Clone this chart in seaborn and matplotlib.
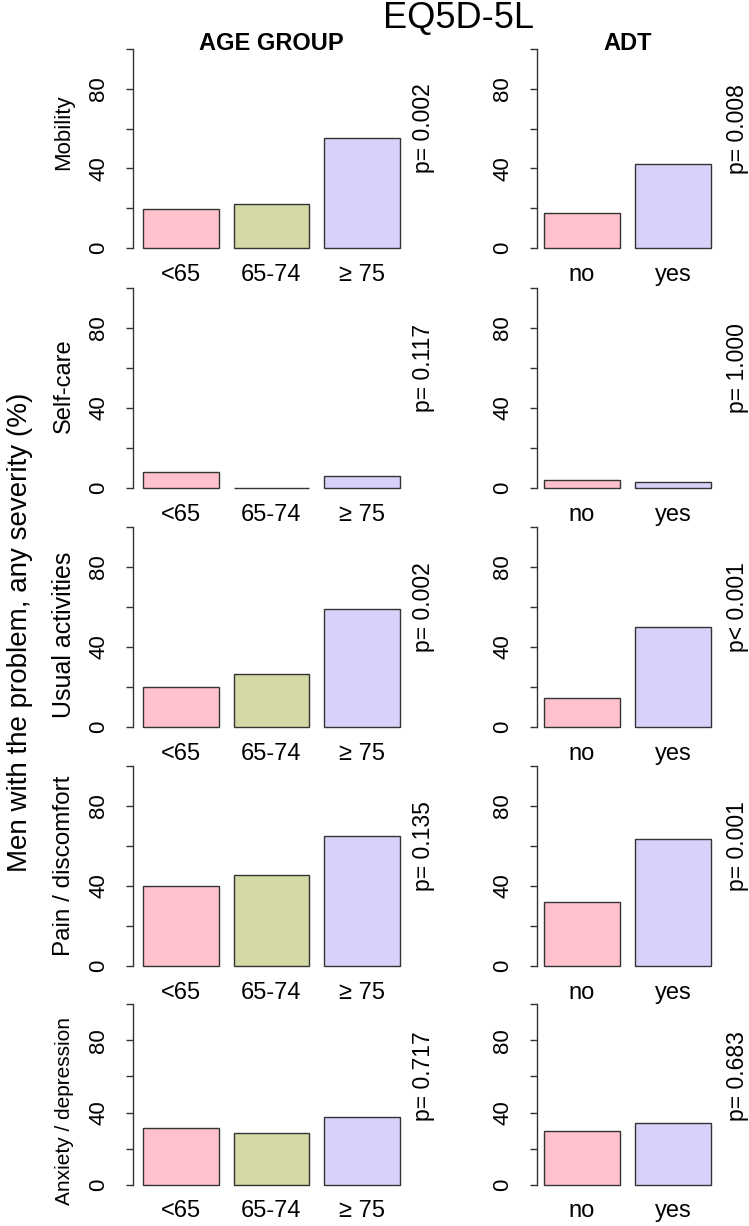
import matplotlib
matplotlib.use("Agg")
import matplotlib.pyplot as plt
import matplotlib.transforms as mtransforms
import seaborn as sns
import pandas as pd

# -------------------- data --------------------
domains = ["Mobility", "Self-care", "Usual activities", "Pain / discomfort", "Anxiety / depression"]

age_groups = ["<65", "65-74", "\u2265 75"]
adt_groups = ["no", "yes"]

mobility_age = [19.4, 22.1, 55.4]
selfcare_age = [8.2, 0.0, 6.1]
usual_age = [19.9, 26.5, 59.0]
pain_age = [39.9, 45.4, 64.9]
anxiety_age = [31.7, 29.0, 37.8]

mobility_adt = [17.4, 42.0]
selfcare_adt = [4.2, 3.0]
usual_adt = [14.3, 49.9]
pain_adt = [32.2, 63.7]
anxiety_adt = [29.9, 34.3]

p_age = ["p= 0.002", "p= 0.117", "p= 0.002", "p= 0.135", "p= 0.717"]
p_adt = ["p= 0.008", "p= 1.000", "p< 0.001", "p= 0.001", "p= 0.683"]

age_values = [mobility_age, selfcare_age, usual_age, pain_age, anxiety_age]
adt_values = [mobility_adt, selfcare_adt, usual_adt, pain_adt, anxiety_adt]

age_colors = ["#FFC2CD", "#D4D8A4", "#D6D2FA"]
adt_colors = ["#FFC2CD", "#D6D2FA"]

# -------------------- layout (pixels of the 749x1226 canvas) --------------------
W, H = 749, 1226
col_px = [(133, 410), (537, 718)]
row_px = [(248, 49), (488, 288), (727, 527), (966, 766), (1185, 1004)]  # (y of 0, y of 100)
label_y = [58, 51, 46, 50, 41]
label_size = [16, 17, 18, 17.5, 15]
p_offset = [10, 14]

sns.set_style("white")
plt.rcParams["font.family"] = ["Liberation Sans", "DejaVu Sans"]
plt.rcParams["text.color"] = "black"
plt.rcParams["xtick.color"] = "black"
plt.rcParams["ytick.color"] = "black"
dark = "#333333"

fig = plt.figure(figsize=(W / 100, H / 100), dpi=100)


def place(xl, xr, y0, y100):
    s = (y0 - y100) / 100
    bottom = y0 + 4 * s
    top = y100 - 4 * s
    return [xl / W, 1 - bottom / H, (xr - xl) / W, (bottom - top) / H]


for r, domain in enumerate(domains):
    for c, (cats, vals, cols, pv) in enumerate([
        (age_groups, age_values[r], age_colors, p_age[r]),
        (adt_groups, adt_values[r], adt_colors, p_adt[r]),
    ]):
        ax = fig.add_axes(place(*col_px[c], *row_px[r]))
        ax.set_facecolor("none")
        df = pd.DataFrame({"group": cats, "pct": vals})
        sns.barplot(
            data=df, x="group", y="pct", hue="group",
            order=cats, hue_order=cats, palette=cols,
            width=1 / 1.2, edgecolor=dark, linewidth=1,
            saturation=1, legend=False, ax=ax,
        )
        n = len(cats)
        ext = 0.04 * (n - 1 + 1 / 1.2)
        ax.set_xlim(-0.5 / 1.2 - ext, n - 1 + 0.5 / 1.2 + ext)
        ax.set_ylim(-4, 104)
        ax.set_xlabel("")
        ax.set_ylabel("")

        for side in ["top", "right", "bottom"]:
            ax.spines[side].set_visible(False)
        ax.spines["left"].set_bounds(0, 100)
        ax.spines["left"].set_color(dark)
        ax.spines["left"].set_linewidth(1)

        ax.set_yticks([0, 20, 40, 60, 80, 100])
        ax.set_yticklabels(["0", "", "40", "", "80", ""])
        ax.tick_params(axis="y", left=True, length=5, width=1, color=dark,
                       labelsize=16, pad=12)
        plt.setp(ax.get_yticklabels(), rotation=90, va="center")
        ax.tick_params(axis="x", bottom=False, labelsize=17, pad=2)

        ax.annotate(pv, xy=(1, 60), xycoords=("axes fraction", "data"),
                    xytext=(p_offset[c], 0), textcoords="offset points",
                    rotation=90, ha="center", va="center", fontsize=16.5)

        if c == 0:
            tr = mtransforms.blended_transform_factory(ax.transAxes, ax.transData)
            ax.text((64 - col_px[0][0]) / (col_px[0][1] - col_px[0][0]), label_y[r],
                    domain, transform=tr, rotation=90, ha="center", va="center",
                    fontsize=label_size[r])

fig.text(458 / W, 1 - 28 / H, "EQ5D-5L", ha="center", va="baseline", fontsize=26)
fig.text(271.5 / W, 1 - 50 / H, "AGE GROUP", ha="center", va="baseline",
         fontsize=17, fontweight="bold")
fig.text(627.5 / W, 1 - 50 / H, "ADT", ha="center", va="baseline",
         fontsize=17, fontweight="bold")
fig.text(20 / W, 1 - 632 / H, "Men with the problem, any severity (%)",
         rotation=90, ha="center", va="center", fontsize=20)

fig.savefig("out.png", dpi=100, facecolor="white")
